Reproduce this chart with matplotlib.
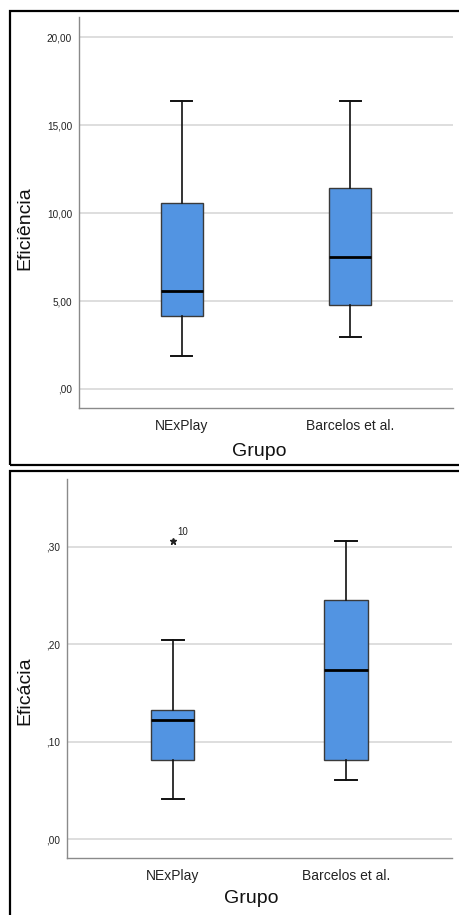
import matplotlib
matplotlib.use("Agg")
import matplotlib.pyplot as plt
from matplotlib.patches import Rectangle

plt.rcParams['font.family'] = ['Liberation Sans', 'DejaVu Sans']

groups = ['NExPlay', 'Barcelos et al.']

# Eficiencia (top panel)
ef_whislo = [1.88, 2.94]
ef_q1 = [4.17, 4.80]
ef_med = [5.57, 7.48]
ef_q3 = [10.57, 11.40]
ef_whishi = [16.38, 16.38]
ef_ticks = [0, 5, 10, 15, 20]
ef_ticklabels = [',00', '5,00', '10,00', '15,00', '20,00']

# Eficacia (bottom panel)
ec_whislo = [0.041, 0.061]
ec_q1 = [0.081, 0.081]
ec_med = [0.1226, 0.1733]
ec_q3 = [0.1326, 0.2449]
ec_whishi = [0.2038, 0.306]
ec_fliers = [[0.306], []]
ec_flier_ids = [['10'], []]
ec_ticks = [0.0, 0.1, 0.2, 0.3]
ec_ticklabels = [',00', ',10', ',20', ',30']

BOX_COLOR = '#5294E2'


def make_stats(lo, q1, med, q3, hi, fliers=None):
    stats = []
    for i in range(len(lo)):
        stats.append(dict(whislo=lo[i], q1=q1[i], med=med[i], q3=q3[i],
                          whishi=hi[i],
                          fliers=fliers[i] if fliers else []))
    return stats


def draw_panel(ax, stats, ticks, ticklabels, ylim, ylabel, ylab_xy, xlab_xy):
    ax.yaxis.grid(True, color='#d4d4d4', linewidth=1.1, zorder=0)
    ax.set_axisbelow(True)
    ax.bxp(stats, positions=[1, 2], widths=0.25, patch_artist=True,
           capwidths=0.125,
           boxprops=dict(facecolor=BOX_COLOR, edgecolor='#3a3a3a',
                         linewidth=1.0),
           medianprops=dict(color='black', linewidth=2.0),
           whiskerprops=dict(color='#111111', linewidth=1.2),
           capprops=dict(color='#111111', linewidth=1.4),
           flierprops=dict(marker='*', markersize=4.5,
                           markerfacecolor='#222222',
                           markeredgecolor='#222222'))
    ax.set_xlim(0.387, 2.613)
    ax.set_ylim(*ylim)
    ax.set_yticks(ticks)
    ax.set_yticklabels(ticklabels, fontsize=7.2, color='#222222')
    ax.set_xticks([1, 2])
    ax.set_xticklabels(groups, fontsize=10, color='#222222')
    ax.tick_params(axis='y', length=0, pad=5)
    ax.tick_params(axis='x', length=0, pad=8)
    for s in ['top', 'right']:
        ax.spines[s].set_visible(False)
    for s in ['left', 'bottom']:
        ax.spines[s].set_color('#8a8a8a')
        ax.spines[s].set_linewidth(1.0)
    ax.set_ylabel(ylabel, fontsize=14, color='#111111')
    ax.yaxis.set_label_coords(*ylab_xy)
    ax.yaxis.label.set_va('center')
    ax.set_xlabel('Grupo', fontsize=14, color='#111111')
    ax.xaxis.set_label_coords(*xlab_xy)
    ax.xaxis.label.set_va('center')


fig = plt.figure(figsize=(4.59, 9.15), dpi=100)

# panel frames
W, H = 459.0, 915.0
fig.patches.append(Rectangle((10 / W, 1 - 465 / H), 1.2, (465 - 11) / H,
                             transform=fig.transFigure, fill=False,
                             edgecolor='black', linewidth=1.6))
fig.patches.append(Rectangle((10 / W, 1 - 960 / H), 1.2, (960 - 471) / H,
                             transform=fig.transFigure, fill=False,
                             edgecolor='black', linewidth=1.6))

ax1 = fig.add_axes([79 / W, 1 - 408 / H, 374 / W, 391 / H])
draw_panel(ax1, make_stats(ef_whislo, ef_q1, ef_med, ef_q3, ef_whishi),
           ef_ticks, ef_ticklabels, (-1.08, 21.14), 'Eficiência',
           (-0.144, 0.46), (0.481, -0.1125))

ax2 = fig.add_axes([66.7 / W, 1 - 858.3 / H, 385.3 / W, 379.3 / H])
draw_panel(ax2, make_stats(ec_whislo, ec_q1, ec_med, ec_q3, ec_whishi,
                           ec_fliers),
           ec_ticks, ec_ticklabels, (-0.0198, 0.3696), 'Eficácia',
           (-0.108, 0.441), (0.478, -0.107))

# outlier case labels
for i, (vals, ids) in enumerate(zip(ec_fliers, ec_flier_ids)):
    for v, lab in zip(vals, ids):
        ax2.annotate(lab, (i + 1, v), xytext=(3, 3), textcoords='offset points',
                     fontsize=7, color='#222222', va='bottom', ha='left')

fig.savefig('out.png', dpi=100)
